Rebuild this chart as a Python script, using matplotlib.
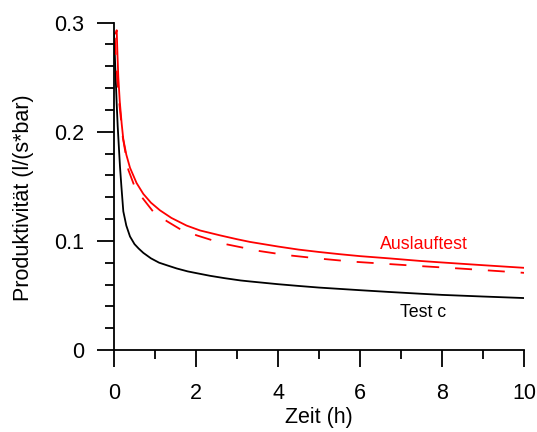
import numpy as np
import matplotlib
matplotlib.use("Agg")
import matplotlib.pyplot as plt
from matplotlib.ticker import MultipleLocator

# Werte
test_c_t = [0.0, 0.02, 0.04, 0.066, 0.09, 0.12, 0.146, 0.18, 0.227, 0.3, 0.39, 0.5,
            0.6, 0.715, 0.9, 1.1, 1.3, 1.53, 1.8, 2.0, 2.34, 2.7, 3.09, 3.32, 4.0,
            4.5, 5.0, 5.5, 6.0, 6.7, 7.5, 8.0, 9.0, 10.0]
test_c_p = [0.29, 0.27, 0.25, 0.225, 0.205, 0.185, 0.168, 0.15, 0.127, 0.114, 0.104, 0.097,
            0.093, 0.089, 0.084, 0.080, 0.0775, 0.0747, 0.072, 0.0705, 0.068, 0.0658, 0.0637,
            0.0628, 0.0603, 0.0587, 0.0572, 0.056, 0.0548, 0.0532, 0.0515, 0.0505, 0.049,
            0.0476]

ausl_t = [0.04, 0.066, 0.085, 0.105, 0.14, 0.188, 0.227, 0.3, 0.39, 0.55, 0.715, 0.9,
          1.12, 1.4, 1.77, 2.1, 2.59, 3.0, 3.32, 4.0, 4.5, 5.0, 5.5, 6.0, 6.73, 7.5,
          8.0, 9.0, 10.0]
ausl_p = [0.29, 0.293, 0.27, 0.25, 0.228, 0.207, 0.193, 0.179, 0.167, 0.153, 0.143, 0.135,
          0.128, 0.121, 0.114, 0.1095, 0.105, 0.1015, 0.099, 0.0948, 0.092, 0.0898, 0.0878,
          0.086, 0.0839, 0.0815, 0.0802, 0.0777, 0.0753]

ausl_fit_t = [0.02, 0.05, 0.08, 0.13, 0.21, 0.35, 0.5, 0.70, 0.95, 1.29, 1.6, 2.02, 2.4,
              2.76, 3.56, 4.2, 5.0, 5.8, 6.73, 7.5, 8.5, 10.0]
ausl_fit_p = [0.286, 0.265, 0.248, 0.226, 0.196, 0.165, 0.150, 0.139, 0.127, 0.118, 0.111,
              0.105, 0.1005, 0.0967, 0.0906, 0.0870, 0.0838, 0.0810, 0.0787, 0.0768, 0.0745,
              0.0707]

plt.rcParams['font.family'] = ['Liberation Sans', 'DejaVu Sans']

fig = plt.figure(figsize=(5.37, 4.32), dpi=100)
ax = fig.add_axes([0.2123, 0.1898, 0.7635, 0.758])

ax.plot(test_c_t, test_c_p, color='black', lw=1.3)
ax.plot(ausl_t, ausl_p, color='red', lw=1.3)
ax.plot(ausl_fit_t, ausl_fit_p, color='red', lw=1.3, dashes=(9.4, 8.8))

ax.text(6.49, 0.0924, 'Auslauftest', color='red', fontsize=12.8, va='baseline')
ax.text(6.98, 0.0302, 'Test c', color='black', fontsize=12.8, va='baseline')

ax.set_xlim(0, 10)
ax.set_ylim(0, 0.3)
ax.xaxis.set_major_locator(MultipleLocator(2))
ax.xaxis.set_minor_locator(MultipleLocator(1))
ax.set_yticks([0, 0.1, 0.2, 0.3])
ax.set_yticklabels(['0', '0.1', '0.2', '0.3'])
ax.yaxis.set_minor_locator(MultipleLocator(0.02))

for s in ['top', 'right']:
    ax.spines[s].set_visible(False)
for s in ['left', 'bottom']:
    ax.spines[s].set_linewidth(1.3)

ax.tick_params(which='major', direction='out', length=12.2, width=1.3, labelsize=15.5)
ax.tick_params(which='minor', direction='out', length=6.3, width=1.3)
ax.tick_params(axis='x', which='major', pad=11.5)
ax.tick_params(axis='y', which='major', pad=9.5)

ax.set_xlabel('Zeit (h)', fontsize=15.5, labelpad=2)
ax.set_ylabel('Produktivität (l/(s*bar)', fontsize=15.5)
ax.yaxis.set_label_coords(-0.195, 0.464)

fig.savefig('out.png', dpi=100)
